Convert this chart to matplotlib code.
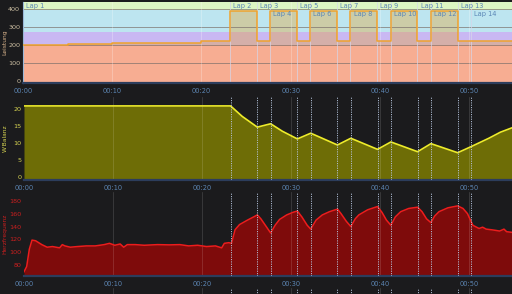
import matplotlib
matplotlib.use("Agg")
import matplotlib.pyplot as plt
import numpy as np

# ---------------- data ----------------
T_END = 54.8
tick_minutes = [0, 10, 20, 30, 40, 50]
tick_labels = ["00:00", "00:10", "00:20", "00:30", "00:40", "00:50"]

lap_names = ["Lap 1", "Lap 2", "Lap 3", "Lap 4", "Lap 5", "Lap 6", "Lap 7", "Lap 8",
             "Lap 9", "Lap 10", "Lap 11", "Lap 12", "Lap 13", "Lap 14"]
lap_starts = [0, 23.2, 26.2, 27.7, 30.7, 32.2, 35.2, 36.7, 39.7, 41.2, 44.2, 45.7, 48.7, 50.2]
lap_label_row = [0, 0, 0, 1, 0, 1, 0, 1, 0, 1, 0, 1, 0, 1]

# power (step) : warm-up segments + laps
power_t = [0, 5, 10, 14, 20, 23.2, 26.2, 27.7, 30.7, 32.2, 35.2, 36.7, 39.7, 41.2,
           44.2, 45.7, 48.7, 50.2, 54.8]
power_w = [200, 205, 210, 213, 222, 390, 222, 390, 222, 390, 222, 390, 222, 390,
           222, 390, 222, 222, 222]

# power zones
zone_lo = [-20, 200, 274, 394]
zone_hi = [200, 274, 394, 460]
zone_colors = ["#feb4cf", "#c9b8f3", "#bde5f0", "#ddf5c3"]

# W' balance (kJ)
wbal_t = [0, 23.2, 24.5, 26.2, 27.7, 29.0, 30.7, 32.2, 35.2, 36.7, 39.7, 41.2, 44.2,
          45.7, 48.7, 50.2, 52.2, 53.5, 54.8]
wbal_v = [21.0, 21.0, 17.9, 14.7, 15.7, 13.5, 11.2, 12.9, 9.4, 11.4, 8.1, 10.3, 7.4,
          9.8, 7.1, 8.9, 11.4, 13.2, 14.5]

# heart rate (bpm)
hr_t = [0, 0.3, 0.6, 0.9, 1.3, 2.0, 2.6, 3.2, 4.0, 4.3, 4.6, 5.2, 6, 7, 8, 9, 9.6, 10.2,
        10.8, 11.2, 11.6, 12.5, 13.5, 15, 16.3, 17.5, 18.5, 19.5, 20.5, 21.5, 22.2,
        22.5, 23.0, 23.3, 23.7, 24.2, 25.1, 25.8, 26.2, 26.6, 27.2, 27.7, 28.2, 28.7,
        29.5, 30.2, 30.7, 31.2, 31.8, 32.2, 32.8, 33.5, 34.3, 35.2, 35.6, 36.2, 36.7,
        37.2, 37.6, 38.6, 39.7, 40.2, 40.7, 41.2, 41.7, 42.3, 43.2, 44.2, 44.7, 45.2,
        45.7, 46.1, 46.6, 47.6, 48.7, 49.3, 49.8, 50.2, 50.4, 51.1, 51.5, 51.9, 52.5,
        53.0, 53.4, 53.9, 54.2, 54.8]
hr_v = [70, 78, 105, 119, 118, 112, 108, 109, 107, 112, 110, 108, 109, 110, 110, 112,
        114, 111, 113, 108, 112, 112, 111, 112, 111.6, 112, 110, 111, 109, 110, 107,
        114, 115, 114, 135, 143, 150, 155, 158, 152, 140, 130, 142, 151, 158, 162, 164,
        155, 142, 136, 150, 158, 163, 167, 160, 148, 140, 152, 158, 166, 171, 162, 150,
        142, 155, 163, 168, 170, 163, 152, 146, 156, 163, 169, 172, 168, 160, 148, 142,
        137, 139, 136, 135, 134, 133, 136, 132, 131]

# ---------------- style ----------------
BG = "#1b1b1d"
TICKC = "#5b84b1"
AXLINE = "#2c3d5c"
LAPC = "#b9c9e2"

fig = plt.figure(figsize=(5.12, 2.94), dpi=100, facecolor=BG)


def fy(px):
    return 1 - px / 294


def make_ax(top_px, bot_px, left_px=23):
    ax = fig.add_axes([left_px / 512, fy(bot_px), 1 - left_px / 512, (bot_px - top_px) / 294])
    ax.set_facecolor(BG)
    for s in ["top", "right", "left"]:
        ax.spines[s].set_visible(False)
    ax.spines["bottom"].set_color(AXLINE)
    ax.spines["bottom"].set_linewidth(1.6)
    ax.set_xlim(0, T_END)
    ax.set_xticks(tick_minutes)
    ax.set_xticklabels(tick_labels)
    ax.tick_params(axis="x", colors=TICKC, labelsize=4.8, length=0, pad=3.5)
    ax.tick_params(axis="y", length=0, labelsize=4.6, pad=2)
    return ax


# ---- panel 1: power ----
ax1 = make_ax(2, 83)
ax1.set_ylim(-11, 439)
for lo, hi, c in zip(zone_lo, zone_hi, zone_colors):
    ax1.axhspan(lo, hi, color=c, lw=0, zorder=0)
ax1.fill_between(power_t, power_w, -11, step="post", color="#eaa020", alpha=0.35, lw=0, zorder=1)
for y in [100, 200, 300, 400]:
    ax1.axhline(y, color="#7a6f6a", lw=0.6, alpha=0.8, zorder=2)
for x in tick_minutes[1:]:
    ax1.axvline(x, color="#ffffff", lw=0.5, alpha=0.35, zorder=2)
ax1.step(power_t, power_w, where="post", color="#f0a32c", lw=1.1, zorder=3)
for i, (name, x, row) in enumerate(zip(lap_names, lap_starts, lap_label_row)):
    if i > 0:
        ax1.axvline(x, color="#d6d6ea", lw=0.6, alpha=0.8, zorder=2)
    ax1.text(x + 0.35, 418 - row * 46, name, color="#5a86b6", fontsize=4.8,
             va="center", ha="left", zorder=4)
ax1.spines["left"].set_visible(True)
ax1.spines["left"].set_color("#9ab8d8")
ax1.spines["left"].set_linewidth(0.8)
ax1.set_yticks([0, 100, 200, 300, 400])
ax1.tick_params(axis="y", colors="#cdbfa3")
ax1.set_ylabel("Leistung", color="#d9b48c", fontsize=4.3)
ax1.yaxis.set_label_coords(-0.032, 0.5)

# ---- panel 2: W'bal ----
ax2 = make_ax(97, 180, 24)
ax2.set_ylim(-1.0, 23.65)
ax2.fill_between(wbal_t, wbal_v, -1.0, color="#6e6d06", lw=0, zorder=1)
ax2.plot(wbal_t, wbal_v, color="#eeec2a", lw=1.2, zorder=3)
ax2.set_yticks([0, 5, 10, 15, 20])
ax2.tick_params(axis="y", colors="#d8d552")
ax2.set_ylabel("W'Balanz", color="#d8d552", fontsize=4.3)
ax2.yaxis.set_label_coords(-0.034, 0.5)

# ---- panel 3: HR ----
ax3 = make_ax(192, 276, 24)
ax3.set_ylim(63.4, 193.5)
ax3.fill_between(hr_t, hr_v, 63.4, color="#7e0b0b", lw=0, zorder=1)
ax3.plot(hr_t, hr_v, color="#ee1c1c", lw=1.1, zorder=3)
ax3.set_yticks([80, 100, 120, 140, 160, 180])
ax3.tick_params(axis="y", colors="#c91f1f")
ax3.set_ylabel("Herzfrequenz", color="#c91f1f", fontsize=4.3)
ax3.yaxis.set_label_coords(-0.034, 0.5)

# ---- panel 4 (cut off) ----
ax4 = fig.add_axes([24 / 512, -0.3, 1 - 24 / 512, 0.32])
ax4.set_facecolor(BG)
ax4.set_xlim(0, T_END)
ax4.set_ylim(0, 1)
ax4.axis("off")

for ax in [ax2, ax3, ax4]:
    for x in tick_minutes[1:]:
        ax.axvline(x, color="#ffffff", lw=0.5, alpha=0.18, zorder=2)
    for x in lap_starts[1:]:
        ax.axvline(x, color=LAPC, lw=0.7, ls=(0, (1.2, 1.2)), alpha=0.9, zorder=4)

fig.savefig("out.png", dpi=100, facecolor=BG)
